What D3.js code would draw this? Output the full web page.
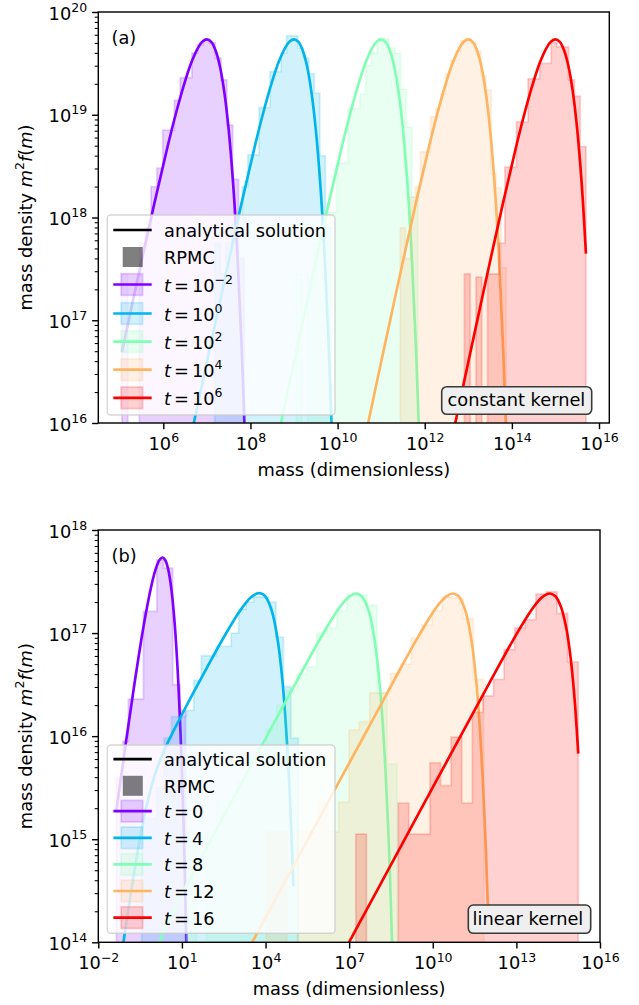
<!DOCTYPE html>
<html>
<head>
<meta charset="utf-8">
<script src="https://cdn.jsdelivr.net/npm/d3@7"></script>
<style>
  body { margin: 0; background: #fff; }
  svg { display: block; font-family: "DejaVu Sans", sans-serif; }
</style>
</head>
<body>
<svg id="fig" width="639" height="1005"></svg>
<script>
// ---------------- data (log10 of mass and of mass density m^2 f(m)) ----------------
const seriesColors = ["#8000ff", "#00b4ec", "#80ffb4", "#ffb462", "#ff0000"];

// panel (a): constant kernel, t = 10^-2 ... 10^6
const timeExpA = ["\u22122", "0", "2", "4", "6"];
const lineMassA = [
  [5.05, 5.4, 5.8, 6.1, 6.3, 6.5, 6.65, 6.8, 6.9, 7.0, 7.1, 7.2, 7.3, 7.4, 7.5, 7.6, 7.7, 7.8, 7.9],
  [6.6, 7.0, 7.4, 7.8, 8.1, 8.3, 8.5, 8.65, 8.8, 8.9, 9.0, 9.1, 9.2, 9.3, 9.4, 9.5, 9.6, 9.7, 9.8, 9.9],
  [8.6, 9.0, 9.4, 9.8, 10.1, 10.3, 10.5, 10.65, 10.8, 10.9, 11.0, 11.1, 11.2, 11.3, 11.4, 11.5, 11.6, 11.7, 11.8, 11.9],
  [10.6, 11.0, 11.4, 11.8, 12.1, 12.3, 12.5, 12.65, 12.8, 12.9, 13.0, 13.1, 13.2, 13.3, 13.4, 13.5, 13.6, 13.7, 13.8, 13.9],
  [12.6, 13.0, 13.4, 13.8, 14.1, 14.3, 14.5, 14.65, 14.8, 14.9, 15.0, 15.1, 15.2, 15.3, 15.4, 15.5, 15.6, 15.7]
];
const lineDensA = [
  [16.692, 17.380, 18.147, 18.693, 19.029, 19.327, 19.515, 19.654, 19.712, 19.733, 19.709, 19.625, 19.469, 19.220, 18.855, 18.344, 17.649, 16.722, 15.500],
  [15.80, 16.593, 17.380, 18.147, 18.693, 19.029, 19.327, 19.515, 19.654, 19.712, 19.733, 19.709, 19.625, 19.469, 19.220, 18.855, 18.344, 17.649, 16.722, 15.500],
  [15.80, 16.593, 17.380, 18.147, 18.693, 19.029, 19.327, 19.515, 19.654, 19.712, 19.733, 19.709, 19.625, 19.469, 19.220, 18.855, 18.344, 17.649, 16.722, 15.500],
  [15.80, 16.593, 17.380, 18.147, 18.693, 19.029, 19.327, 19.515, 19.654, 19.712, 19.733, 19.709, 19.625, 19.469, 19.220, 18.855, 18.344, 17.649, 16.722, 15.500],
  [15.80, 16.593, 17.380, 18.147, 18.693, 19.029, 19.327, 19.515, 19.654, 19.712, 19.733, 19.709, 19.625, 19.469, 19.220, 18.855, 18.344, 17.649]
];
const histEdgesA = [
  [5.05, 5.184, 5.318, 5.451, 5.585, 5.719, 5.853, 5.987, 6.120, 6.254, 6.388, 6.522, 6.656, 6.789, 6.923, 7.057, 7.191, 7.325, 7.458, 7.592, 7.726, 7.86],
  [7.18, 7.307, 7.434, 7.561, 7.688, 7.815, 7.942, 8.069, 8.196, 8.323, 8.45, 8.577, 8.704, 8.831, 8.958, 9.085, 9.212, 9.339, 9.466, 9.593, 9.72, 9.847],
  [9.05, 9.183, 9.316, 9.449, 9.582, 9.715, 9.847, 9.98, 10.113, 10.246, 10.379, 10.512, 10.645, 10.778, 10.911, 11.044, 11.177, 11.31, 11.442, 11.575, 11.708, 11.841],
  [11.44, 11.556, 11.671, 11.787, 11.903, 12.019, 12.134, 12.25, 12.366, 12.481, 12.597, 12.713, 12.829, 12.944, 13.06, 13.176, 13.291, 13.407, 13.523, 13.639, 13.754, 13.87],
  [12.91, 13.043, 13.176, 13.309, 13.442, 13.575, 13.707, 13.84, 13.973, 14.106, 14.239, 14.372, 14.505, 14.638, 14.771, 14.904, 15.036, 15.169, 15.302, 15.435, 15.568, 15.701]
];
const histValsA = [
  [17.45, null, null, 17.75, 17.9, 18.3, 18.48, 18.85, 18.85, 19.14, 19.36, 19.36, 19.6, 19.68, 19.73, 19.7, 19.55, 19.34, 18.9, 18.37, 17.6],
  [17.75, 17.45, 17.75, 17.9, 18.0, 18.3, 18.61, 18.61, 19.07, 19.07, 19.42, 19.42, 19.6, 19.77, 19.77, 19.65, 19.55, 19.4, 19.21, 18.6, 17.9],
  [17.45, null, 17.45, 17.75, 17.75, 18.05, 18.05, 18.53, 18.53, 19.06, 19.06, 19.2, 19.48, 19.6, 19.72, 19.74, 19.65, 19.6, 19.25, 18.88, 18.2],
  [17.9, 17.6, 18.2, 18.3, 18.64, 18.64, 18.98, 19.06, 19.2, 19.4, 19.53, 19.62, 19.72, 19.73, 19.7, 19.62, 19.38, 19.24, 18.43, 18.29, 17.51],
  [17.45, null, 17.42, null, 17.45, 17.45, 17.75, 18.49, 18.49, 18.93, 18.93, 19.35, 19.35, 19.5, 19.5, 19.7, 19.66, 19.66, 19.34, 19.18, 18.69]
];

// panel (b): linear kernel, t = 0 ... 16
const timeLabelB = ["0", "4", "8", "12", "16"];
const lineMassB = [
  [-1.35, -1.0, -0.7, -0.5, -0.3, -0.1, 0.0, 0.1, 0.2, 0.3, 0.4, 0.5, 0.6, 0.7, 0.8, 0.9, 1.0, 1.05, 1.1, 1.2],
  [-1.301, -1.0, -0.699, -0.523, -0.301, 0, 0.301, 0.477, 0.699, 1.0, 1.477, 2.0, 2.477, 3.0, 3.301, 3.477, 3.699, 3.778, 3.903, 4.0, 4.176, 4.301, 4.477, 4.602, 4.699, 4.778, 4.845, 4.903, 5.0],
  [-0.301, 0, 0.477, 1, 2, 3, 4, 5, 6, 6.477, 6.699, 7, 7.25, 7.477, 7.699, 7.845, 8, 8.176, 8.301, 8.398, 8.477, 8.602],
  [3, 4, 6, 8, 9, 9.5, 10, 10.3, 10.5, 10.724, 10.9, 11, 11.2, 11.4, 11.5, 11.6, 11.7, 11.8, 11.9, 12.0],
  [6, 7, 8, 10, 12, 13, 13.5, 13.8, 14, 14.2, 14.4, 14.6, 14.8, 14.9, 15, 15.1, 15.22]
];
const lineDensB = [
  [15.281, 15.957, 16.513, 16.863, 17.182, 17.455, 17.566, 17.653, 17.711, 17.733, 17.709, 17.627, 17.471, 17.223, 16.860, 16.350, 15.657, 15.227, 14.730, 13.520],
  [13.62, 14.18, 14.70, 14.98, 15.283, 15.60, 15.822, 15.93, 16.051, 16.21, 16.454, 16.715, 16.947, 17.182, 17.296, 17.347, 17.385, 17.388, 17.377, 17.352, 17.256, 17.135, 16.855, 16.55, 16.231, 15.903, 15.569, 15.23, 14.543],
  [13.54, 13.859, 14.185, 14.468, 14.975, 15.476, 15.976, 16.475, 16.964, 17.178, 17.264, 17.354, 17.384, 17.348, 17.215, 17.043, 16.754, 16.231, 15.682, 15.12, 14.549, 13.389],
  [13.739, 14.239, 15.239, 16.235, 16.735, 16.976, 17.198, 17.307, 17.359, 17.384, 17.363, 17.329, 17.189, 16.909, 16.693, 16.407, 16.035, 15.553, 14.933, 14.14],
  [13.50, 14.002, 14.502, 15.502, 16.50, 16.988, 17.208, 17.315, 17.364, 17.384, 17.357, 17.254, 17.034, 16.86, 16.627, 16.321, 15.83]
];
const histEdgesB = [
  [-1.35, -1.12, -0.92, -0.38, 0.10, 0.34, 0.67, 0.94, 1.13],
  [-0.444, -0.176, 0.092, 0.359, 0.627, 0.894, 1.162, 1.430, 1.697, 1.965, 2.232, 2.500, 2.768, 3.035, 3.303, 3.570, 3.838, 4.106, 4.373, 4.641, 4.908, 5.176],
  [1.16, 1.52, 1.88, 2.24, 2.60, 2.96, 3.32, 3.68, 4.04, 4.40, 4.76, 5.12, 5.48, 5.84, 6.20, 6.56, 6.92, 7.28, 7.64, 8.00, 8.36, 8.72],
  [4.018, 4.390, 4.762, 5.134, 5.506, 5.878, 6.250, 6.622, 6.994, 7.366, 7.738, 8.110, 8.482, 8.854, 9.226, 9.598, 9.970, 10.342, 10.714, 11.086, 11.458, 11.830],
  [7.24, 7.62, 8.00, 8.38, 8.76, 9.14, 9.52, 9.90, 10.28, 10.66, 11.04, 11.42, 11.80, 12.18, 12.56, 12.94, 13.32, 13.70, 14.08, 14.46, 14.84, 15.22]
];
const histValsB = [
  [15.6, 15.95, 16.36, 17.21, 17.71, 17.63, 16.5, 16.25],
  [15.2, 15.2, 15.5, 15.98, 16.19, 16.19, 16.25, 16.54, 16.78, 16.78, 16.87, 16.87, 17.0, 17.23, 17.3, 17.35, 17.35, 17.3, 16.96, 16.48, 15.98],
  [15.07, null, 15.07, 15.37, 15.37, 15.55, 15.67, 15.9, 16.07, 16.3, 16.45, 16.6, 16.67, 17.0, 17.05, 17.22, 17.37, 17.37, 17.27, 16.42, 15.73],
  [15.07, 15.07, null, 15.07, 15.07, 15.37, 15.07, 15.36, 16.06, 16.14, 16.42, 16.42, 16.61, 16.70, 16.95, 17.08, 17.22, 17.35, 17.34, 17.14, 16.55],
  [15.05, null, null, null, 15.35, 15.05, 15.05, 15.74, 15.52, 15.99, 15.35, 16.23, 16.39, 16.55, 16.84, 17.05, 17.13, 17.38, 17.40, 17.19, 16.72]
];

// axis ticks
const xTicksA = [1e6, 1e8, 1e10, 1e12, 1e14, 1e16];
const yTicksA = [1e16, 1e17, 1e18, 1e19, 1e20];
const xTicksB = [1e-2, 1e1, 1e4, 1e7, 1e10, 1e13, 1e16];
const yTicksB = [1e14, 1e15, 1e16, 1e17, 1e18];

// ---------------- layout ----------------
const FS = 17.8, SUP = 12.5, RAISE = 7.8;
const LW = 2.67, FILL_ALPHA = 0.18;
const svg = d3.select("#fig");

const panels = [
  {
    id: "a", tag: "(a)", box: "constant kernel",
    x0: 98.3, x1: 609.3, y0: 12, y1: 423,
    xDom: [Math.pow(10, 4.508), Math.pow(10, 16.236)], yDom: [1e16, 1e20],
    xTicks: xTicksA, yTicks: yTicksA,
    lineMass: lineMassA, lineDens: lineDensA, histEdges: histEdgesA, histVals: histValsA,
    legendLabels: timeExpA.map(e => ({ pow: e })),
    legend: { x: 107.2, y: 215, w: 227.8, h: 200, rows: [230, 257, 284.5, 313.5, 341.6, 369.7, 397.8] },
    textBox: { x: 441.7, y: 386.7, w: 150, h: 27.6, tx: 447.6, ty: 405.6 }
  },
  {
    id: "b", tag: "(b)", box: "linear kernel",
    x0: 98.3, x1: 600, y0: 530, y1: 942.3,
    xDom: [1e-2, 1e16], yDom: [1e14, 1e18],
    xTicks: xTicksB, yTicks: yTicksB,
    lineMass: lineMassB, lineDens: lineDensB, histEdges: histEdgesB, histVals: histValsB,
    legendLabels: timeLabelB.map(v => ({ plain: v })),
    legend: { x: 107.3, y: 745, w: 227.7, h: 188.3, rows: [759.2, 785.8, 811.2, 837.8, 864.4, 891, 917.6] },
    textBox: { x: 468.3, y: 905, w: 122.4, h: 28.3, tx: 472.6, ty: 924.6 }
  }
];

function expText(v) {
  const e = Math.round(Math.log10(v));
  return e < 0 ? "\u2212" + Math.abs(e) : String(e);
}
function powerLabel(sel, exp) {
  sel.append("tspan").text("10");
  sel.append("tspan").attr("font-size", SUP).attr("dy", -RAISE).text(exp);
}

panels.forEach(p => {
  const xs = d3.scaleLog().domain(p.xDom).range([p.x0, p.x1]);
  const ys = d3.scaleLog().domain(p.yDom).range([p.y1, p.y0]);
  const g = svg.append("g");

  const clipId = "clip-" + p.id;
  svg.append("defs").append("clipPath").attr("id", clipId)
    .append("rect").attr("x", p.x0).attr("y", p.y0)
    .attr("width", p.x1 - p.x0).attr("height", p.y1 - p.y0);

  const plot = g.append("g").attr("clip-path", `url(#${clipId})`);
  const floorY = p.y1 + 40;

  const line = d3.line()
    .x(d => xs(Math.pow(10, d[0])))
    .y(d => ys(Math.pow(10, d[1])))
    .curve(d3.curveCatmullRom.alpha(0.5));

  seriesColors.forEach((c, i) => {
    // RPMC histogram as a filled step outline
    const edges = p.histEdges[i], vals = p.histVals[i];
    const yOf = v => (v == null ? floorY : ys(Math.pow(10, v)));
    const pts = [[xs(Math.pow(10, edges[0])), floorY]];
    vals.forEach((v, k) => {
      const xa = xs(Math.pow(10, edges[k])), xb = xs(Math.pow(10, edges[k + 1]));
      pts.push([xa, yOf(v)], [xb, yOf(v)]);
    });
    pts.push([xs(Math.pow(10, edges[edges.length - 1])), floorY]);
    plot.append("path")
      .attr("d", "M" + pts.map(q => q[0].toFixed(2) + "," + q[1].toFixed(2)).join("L") + "Z")
      .attr("fill", c).attr("fill-opacity", FILL_ALPHA)
      .attr("stroke", c).attr("stroke-opacity", FILL_ALPHA).attr("stroke-width", 1.78)
      .attr("stroke-linejoin", "miter");

    // analytical solution
    const pairs = p.lineMass[i].map((m, k) => [m, p.lineDens[i][k]]);
    plot.append("path").attr("d", line(pairs))
      .attr("fill", "none").attr("stroke", c).attr("stroke-width", LW)
      .attr("stroke-linecap", "butt").attr("stroke-linejoin", "round");
  });

  // axes
  const gx = g.append("g").attr("transform", `translate(0,${p.y1})`)
    .call(d3.axisBottom(xs).tickValues(p.xTicks).tickSize(6.2).tickSizeOuter(0).tickFormat(() => ""));
  gx.attr("font-size", null).attr("font-family", null);
  gx.select(".domain").remove();
  gx.selectAll(".tick line").attr("stroke", "#000").attr("stroke-width", 1.42);
  gx.selectAll(".tick text").attr("y", 27.2).attr("dy", null).attr("font-size", FS)
    .attr("fill", "#000")
    .each(function (d) { const t = d3.select(this); t.text(null); powerLabel(t, expText(d)); });

  const gy = g.append("g").attr("transform", `translate(${p.x0},0)`)
    .call(d3.axisLeft(ys).tickValues(p.yTicks).tickSize(6.2).tickSizeOuter(0).tickFormat(() => ""));
  gy.attr("font-size", null).attr("font-family", null);
  gy.select(".domain").remove();
  gy.selectAll(".tick line").attr("stroke", "#000").attr("stroke-width", 1.42);
  gy.selectAll(".tick text").attr("x", -11.2).attr("y", 7).attr("dy", null).attr("font-size", FS)
    .attr("fill", "#000").attr("text-anchor", "end")
    .each(function (d) { const t = d3.select(this); t.text(null); powerLabel(t, expText(d)); });

  const minorY = ys.ticks().filter(v => Math.abs(Math.log10(v) - Math.round(Math.log10(v))) > 1e-6);
  const gym = g.append("g").attr("transform", `translate(${p.x0},0)`)
    .call(d3.axisLeft(ys).tickValues(minorY).tickSize(3.6).tickSizeOuter(0).tickFormat(() => ""));
  gym.select(".domain").remove();
  gym.selectAll(".tick line").attr("stroke", "#000").attr("stroke-width", 1.07);

  // frame
  g.append("rect").attr("x", p.x0).attr("y", p.y0)
    .attr("width", p.x1 - p.x0).attr("height", p.y1 - p.y0)
    .attr("fill", "none").attr("stroke", "#000").attr("stroke-width", 1.42);

  // axis titles
  g.append("text").attr("x", (p.x0 + p.x1) / 2).attr("y", p.y1 + 52.7)
    .attr("text-anchor", "middle").attr("font-size", FS).text("mass (dimensionless)");
  const yl = g.append("text")
    .attr("transform", `translate(31.8,${(p.y0 + p.y1) / 2}) rotate(-90)`)
    .attr("text-anchor", "middle").attr("font-size", FS);
  yl.append("tspan").text("mass density ");
  yl.append("tspan").attr("font-style", "italic").text("m");
  yl.append("tspan").attr("font-size", SUP).attr("dy", -RAISE).text("2");
  yl.append("tspan").attr("font-style", "italic").attr("dy", RAISE).text("f");
  yl.append("tspan").text("(");
  yl.append("tspan").attr("font-style", "italic").text("m");
  yl.append("tspan").text(")");

  // panel tag
  g.append("text").attr("x", p.x0 + 13.2).attr("y", p.y0 + 32.3)
    .attr("font-size", FS).text(p.tag);

  // legend
  const L = p.legend;
  const lg = g.append("g");
  lg.append("rect").attr("x", L.x).attr("y", L.y).attr("width", L.w).attr("height", L.h)
    .attr("rx", 3.6).attr("fill", "#fff").attr("fill-opacity", 0.8)
    .attr("stroke", "#cccccc").attr("stroke-opacity", 0.8).attr("stroke-width", 1.4);
  const hx0 = L.x + 6.1, hx1 = L.x + 44.5, hc = L.x + 24.6, tx = L.x + 56.8;
  // analytical solution
  lg.append("line").attr("x1", hx0).attr("x2", hx1).attr("y1", L.rows[0]).attr("y2", L.rows[0])
    .attr("stroke", "#000").attr("stroke-width", LW);
  lg.append("text").attr("x", tx).attr("y", L.rows[0] + 6.8).attr("font-size", FS).text("analytical solution");
  // RPMC
  lg.append("rect").attr("x", hc + 0.9 - 10).attr("y", L.rows[1] - 10).attr("width", 20).attr("height", 20)
    .attr("fill", "#000").attr("fill-opacity", 0.5);
  lg.append("text").attr("x", tx).attr("y", L.rows[1] + 6.9).attr("font-size", FS).text("RPMC");
  seriesColors.forEach((c, i) => {
    const cy = L.rows[i + 2];
    lg.append("rect").attr("x", hc - 10.8).attr("y", cy - 10.8).attr("width", 21.6).attr("height", 21.6)
      .attr("fill", c).attr("fill-opacity", FILL_ALPHA)
      .attr("stroke", c).attr("stroke-opacity", FILL_ALPHA).attr("stroke-width", 1.78);
    lg.append("line").attr("x1", hx0).attr("x2", hx1).attr("y1", cy).attr("y2", cy)
      .attr("stroke", c).attr("stroke-width", LW);
    const t = lg.append("text").attr("x", tx).attr("y", cy + 7).attr("font-size", FS);
    t.append("tspan").attr("font-style", "italic").text("t");
    t.append("tspan").attr("dx", 3).text("=");
    const lab = p.legendLabels[i];
    if (lab.pow !== undefined) {
      t.append("tspan").attr("dx", 3).text("10");
      t.append("tspan").attr("font-size", SUP).attr("dy", -RAISE).text(lab.pow);
    } else {
      t.append("tspan").attr("dx", 3).text(lab.plain);
    }
  });

  // kernel text box
  const B = p.textBox;
  g.append("rect").attr("x", B.x).attr("y", B.y).attr("width", B.w).attr("height", B.h)
    .attr("rx", 5).attr("fill", "#efefef").attr("stroke", "#3a3a3a").attr("stroke-width", 1.6);
  g.append("text").attr("x", B.tx).attr("y", B.ty).attr("font-size", FS).text(p.box);
});
</script>
</body>
</html>
